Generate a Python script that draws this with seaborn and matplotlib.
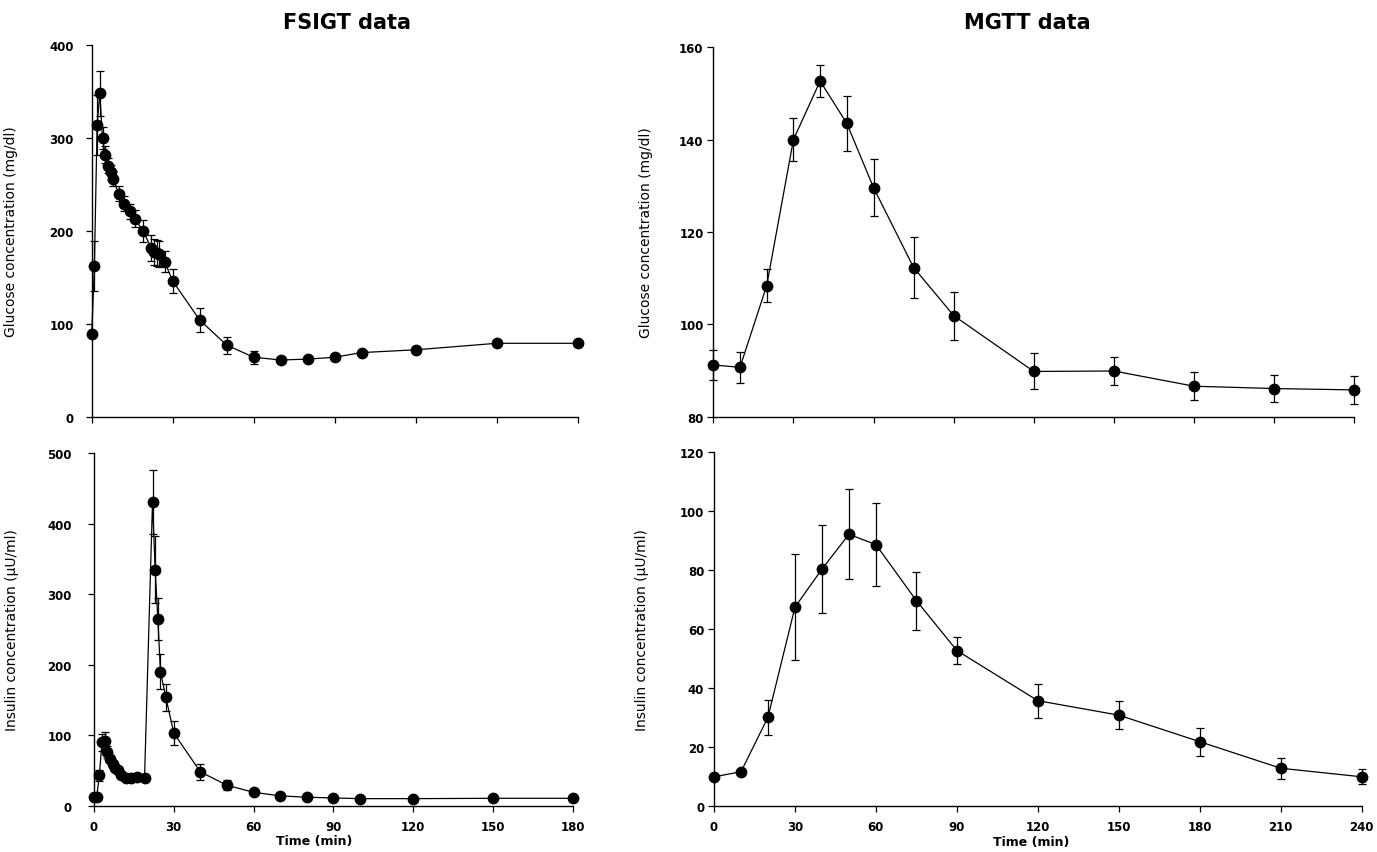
import numpy as np
import pandas as pd
import matplotlib
matplotlib.use("Agg")
import matplotlib.pyplot as plt
import seaborn as sns

# ---------------- data ----------------
fsigt_glu_t = [0, 1, 2, 3, 4, 5, 6, 7, 8, 10, 12, 14, 16, 19, 22, 23, 24, 25, 27, 30,
               40, 50, 60, 70, 80, 90, 100, 120, 150, 180]
fsigt_glu = [89, 162, 314, 348, 300, 282, 270, 263, 256, 240, 229, 221, 213, 200, 182, 177,
             176, 175, 167, 146, 104, 77, 64, 61, 62, 64, 69, 72, 79, 79]
fsigt_glu_err = [0, 27, 32, 24, 12, 9, 8, 8, 8, 8, 8, 8, 9, 12, 14, 14, 14, 14, 11, 13,
                 13, 9, 7, 3, 2, 2, 2, 2, 2, 2]

fsigt_ins_t = [0, 1, 2, 3, 4, 5, 6, 7, 8, 9, 10, 12, 14, 16, 19, 22, 23, 24, 25, 27, 30,
               40, 50, 60, 70, 80, 90, 100, 120, 150, 180]
fsigt_ins = [12, 12, 43, 90, 92, 76, 66, 59, 54, 50, 43, 40, 40, 41, 39, 431, 335, 265, 190,
             154, 103, 48, 29, 19, 14, 12, 11, 10, 10, 10.5, 10.5]
fsigt_ins_err = [2, 2, 8, 12, 12, 8, 6, 5, 4, 4, 3, 3, 3, 3, 3, 45, 48, 30, 25, 19, 17,
                 11, 7, 3, 2, 1, 1, 1, 1, 1, 1]

mgtt_t = [0, 10, 20, 30, 40, 50, 60, 75, 90, 120, 150, 180, 210, 240]
mgtt_glu = [91.2, 90.7, 108.4, 140.0, 152.7, 143.5, 129.6, 112.3, 101.9, 89.8, 89.9, 86.6, 86.1, 85.8]
mgtt_glu_err = [3.2, 3.4, 3.6, 4.6, 3.5, 6.0, 6.2, 6.7, 5.2, 3.9, 3.0, 3.0, 3.0, 3.1]
mgtt_ins = [10.0, 11.7, 30.2, 67.5, 80.4, 92.2, 88.7, 69.7, 52.8, 35.8, 30.9, 21.9, 12.9, 10.0]
mgtt_ins_err = [1, 1, 6, 18, 15, 15.3, 14, 9.8, 4.7, 5.8, 4.7, 4.7, 3.5, 2.5]

fsigt_xticks = [0, 30, 60, 90, 120, 150, 180]
mgtt_xticks = [0, 30, 60, 90, 120, 150, 180, 210, 240]

titles = ["FSIGT data", "MGTT data"]
glu_label = "Glucose concentration (mg/dl)"
ins_label = "Insulin concentration (\u03bcU/ml)"
time_label = "Time (min)"

# ---------------- style ----------------
sns.set_theme(style="ticks")
plt.rcParams["font.family"] = ["DejaVu Sans"]

W, H = 1377, 853
fig = plt.figure(figsize=(W / 100, H / 100), dpi=100)


def px_axes(left, right, top, bottom):
    return fig.add_axes([left / W, 1 - bottom / H, (right - left) / W, (bottom - top) / H])


def draw(ax, t, v, e):
    df = pd.DataFrame({"t": t, "v": v})
    ax.errorbar(t, v, yerr=e, fmt="none", ecolor="black", elinewidth=0.9,
                capsize=2.6, capthick=0.9, clip_on=False, zorder=2)
    sns.lineplot(data=df, x="t", y="v", ax=ax, color="black", linewidth=0.9,
                 marker="o", markersize=8.5, markeredgewidth=0, errorbar=None,
                 clip_on=False, zorder=3)


def style(ax, xlim, ylim, xticks, yticks, show_x, ypad, ylabel, ylab_x):
    ax.set_xlim(*xlim)
    ax.set_ylim(*ylim)
    ax.set_xticks(xticks)
    ax.set_yticks(yticks)
    for s in ["top", "right"]:
        ax.spines[s].set_visible(False)
    for s in ["left", "bottom"]:
        ax.spines[s].set_linewidth(1.0)
        ax.spines[s].set_color("black")
    ax.tick_params(axis="both", direction="out", length=4, width=0.9, color="black",
                   labelsize=8.5, labelcolor="black")
    ax.tick_params(axis="y", pad=ypad)
    ax.tick_params(axis="x", pad=6, labelbottom=show_x)
    for lab in ax.get_xticklabels() + ax.get_yticklabels():
        lab.set_fontweight("bold")
    ax.set_ylabel(ylabel, fontsize=10, color="black")
    ax.yaxis.set_label_coords(ylab_x, 0.5)
    if show_x:
        ax.set_xlabel(time_label, fontsize=9, fontweight="bold", color="black")
        ax.xaxis.label.set_va("center")
    else:
        ax.set_xlabel("")


ax1 = px_axes(91.7, 577.7, 46.0, 417.7)
draw(ax1, fsigt_glu_t, fsigt_glu, fsigt_glu_err)
style(ax1, (0, 180), (0, 400), fsigt_xticks, [0, 100, 200, 300, 400], False, 9,
      glu_label, -0.152)

ax2 = px_axes(713.3, 1354.3, 48.3, 417.7)
draw(ax2, mgtt_t, mgtt_glu, mgtt_glu_err)
style(ax2, (0, 240), (80, 160), mgtt_xticks, [80, 100, 120, 140, 160], False, 3,
      glu_label, -0.094)

ax3 = px_axes(94.0, 572.7, 454.3, 806.7)
draw(ax3, fsigt_ins_t, fsigt_ins, fsigt_ins_err)
style(ax3, (0, 180), (0, 500), fsigt_xticks, [0, 100, 200, 300, 400, 500], True, 12,
      ins_label, -0.157)
ax3.xaxis.set_label_coords(0.46, -0.100)

ax4 = px_axes(714.0, 1361.7, 453.3, 807.3)
draw(ax4, mgtt_t, mgtt_ins, mgtt_ins_err)
style(ax4, (0, 240), (0, 120), mgtt_xticks, [0, 20, 40, 60, 80, 100, 120], True, 3,
      ins_label, -0.100)
ax4.xaxis.set_label_coords(0.49, -0.100)

fig.text(347 / W, 1 - 23 / H, titles[0], ha="center", va="center",
         fontsize=15, fontweight="bold", color="black")
fig.text(1027 / W, 1 - 23 / H, titles[1], ha="center", va="center",
         fontsize=15, fontweight="bold", color="black")

fig.savefig("out.png", dpi=100, facecolor="white")
